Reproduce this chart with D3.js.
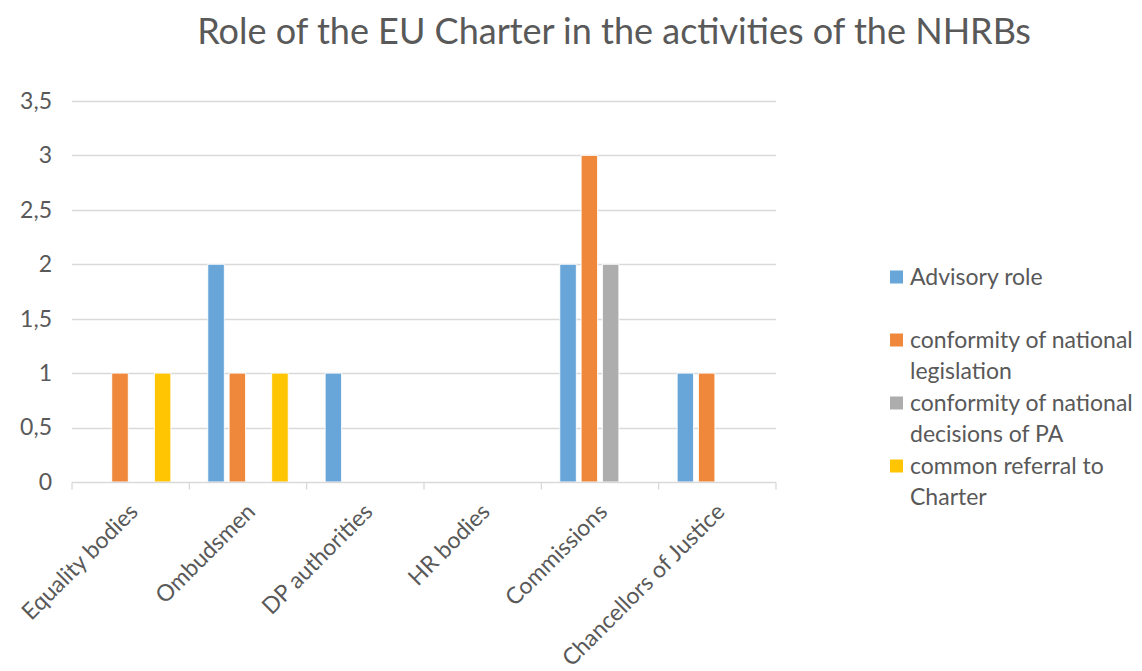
<!DOCTYPE html>
<html>
<head>
<meta charset="utf-8">
<script src="https://cdn.jsdelivr.net/npm/d3@7"></script>
<style>
  html, body { margin: 0; padding: 0; background: #fff; }
  svg { display: block; font-family: Lato, "Open Sans", sans-serif; }
</style>
</head>
<body>
<svg id="chart" width="1142" height="671"></svg>
<script>
// Bodies on the x axis
const categories = ["Equality bodies", "Ombudsmen", "DP authorities", "HR bodies", "Commissions", "Chancellors of Justice"];
// Series names and their wrapped legend lines
const seriesNames = ["Advisory role", "conformity of national legislation", "conformity of national decisions of PA", "common referral to Charter"];
const seriesLegendLines = [["Advisory role"], ["conformity of national", "legislation"], ["conformity of national", "decisions of PA"], ["common referral to", "Charter"]];
// Values per series, aligned with categories
const advisoryRole      = [0, 2, 1, 0, 2, 1];
const conformityLegisl  = [1, 1, 0, 0, 3, 1];
const conformityPA      = [0, 0, 0, 0, 2, 0];
const commonReferral    = [1, 1, 0, 0, 0, 0];
const yTicks = [0, 0.5, 1, 1.5, 2, 2.5, 3, 3.5];
const colors = ["#68a6da", "#ef883a", "#adadad", "#ffc402"];

const seriesValues = [advisoryRole, conformityLegisl, conformityPA, commonReferral];

const svg = d3.select("#chart");
const plot = { left: 72, right: 776, top: 101, bottom: 482 };
const textColor = "#595959";
const labelSize = "23px";

const x0 = d3.scaleBand().domain(categories).range([plot.left, plot.right]).padding(0);
const x1 = d3.scaleBand().domain(d3.range(seriesNames.length))
  .range([18.5, x0.bandwidth() - 18.5]).paddingInner(0.23).paddingOuter(0);
const y = d3.scaleLinear().domain([0, 3.5]).range([plot.bottom, plot.top]);

// Title
svg.append("text")
  .attr("x", 614).attr("y", 44)
  .attr("text-anchor", "middle")
  .attr("fill", textColor)
  .style("font-size", "36px")
  .text("Role of the EU Charter in the activities of the NHRBs");

// Gridlines
svg.append("g")
  .selectAll("line")
  .data(yTicks.filter(d => d > 0))
  .join("line")
  .attr("x1", plot.left).attr("x2", plot.right)
  .attr("y1", d => Math.round(y(d)) + 0.5).attr("y2", d => Math.round(y(d)) + 0.5)
  .attr("stroke", "#d9d9d9").attr("stroke-width", 1.3);

// Y axis labels
const yAxis = d3.axisLeft(y).tickValues(yTicks).tickSize(0).tickPadding(0)
  .tickFormat(d => String(d).replace(".", ","));
const gy = svg.append("g").attr("transform", `translate(${plot.left - 20},0)`).call(yAxis);
gy.select(".domain").remove();
gy.selectAll("text").attr("fill", textColor).style("font-size", labelSize).style("font-family", "Lato, sans-serif");

// Bars
const groups = svg.append("g").selectAll("g")
  .data(categories)
  .join("g")
  .attr("transform", d => `translate(${x0(d)},0)`);
groups.selectAll("rect")
  .data((c, ci) => seriesValues.map((vals, si) => ({ si, v: vals[ci] })).filter(d => d.v > 0))
  .join("rect")
  .attr("x", d => x1(d.si))
  .attr("width", x1.bandwidth())
  .attr("y", d => y(d.v))
  .attr("height", d => y(0) - y(d.v))
  .attr("fill", d => colors[d.si])
  .attr("stroke", "#fff").attr("stroke-width", 0.8);

// X axis with ticks at band boundaries
const gx = svg.append("g").attr("transform", `translate(0,${Math.round(plot.bottom) + 0.5})`);
gx.append("line").attr("x1", plot.left).attr("x2", plot.right)
  .attr("stroke", "#d9d9d9").attr("stroke-width", 1.3);
const boundaries = categories.map(c => x0(c)).concat([x0.range()[1]]);
gx.selectAll("line.tick")
  .data(boundaries)
  .join("line").attr("class", "tick")
  .attr("x1", d => d).attr("x2", d => d)
  .attr("y1", 0).attr("y2", 7)
  .attr("stroke", "#d9d9d9").attr("stroke-width", 1.3);

// Rotated category labels
gx.selectAll("text")
  .data(categories)
  .join("text")
  .attr("transform", d => `translate(${x0(d) + x0.bandwidth() / 2 + 3},${25}) rotate(-45)`)
  .attr("text-anchor", "end")
  .attr("dy", "0.35em")
  .attr("fill", textColor)
  .style("font-size", labelSize)
  .text(d => d);

// Legend
const legendItems = svg.append("g").selectAll("g")
  .data(seriesLegendLines)
  .join("g")
  .attr("transform", (d, i) => `translate(890,${277 + i * 63})`);
legendItems.append("rect")
  .attr("x", 0).attr("y", -6.5).attr("width", 13).attr("height", 13)
  .attr("fill", (d, i) => colors[i]);
legendItems.append("text")
  .attr("x", 20).attr("y", 0)
  .attr("fill", textColor)
  .style("font-size", labelSize)
  .selectAll("tspan")
  .data(d => d)
  .join("tspan")
  .attr("x", 20)
  .attr("dy", (d, i) => i === 0 ? "0.35em" : "31px")
  .text(d => d);
</script>
</body>
</html>
